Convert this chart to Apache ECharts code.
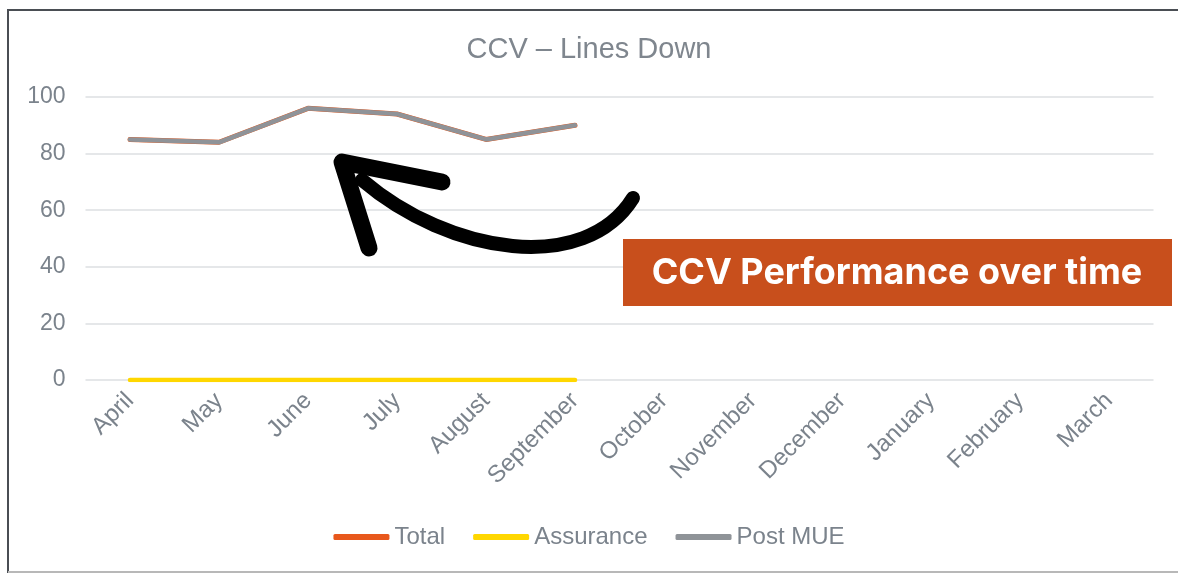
<!DOCTYPE html>
<html lang="en">
<head>
    <meta charset="UTF-8">
    <title>CCV - Lines Down</title>
    <script src="https://cdn.jsdelivr.net/npm/echarts@6/dist/echarts.min.js"></script>
    <style>
        html, body { margin: 0; padding: 0; background: #fff; }
        #main { width: 1178px; height: 573px; }
    </style>
</head>
<body>
<div id="main"></div>
<script>
    // data
    const months = ['April', 'May', 'June', 'July', 'August', 'September',
        'October', 'November', 'December', 'January', 'February', 'March'];
    const total = [85, 84, 96, 94, 85, 90];
    const assurance = [0, 0, 0, 0, 0, 0];
    const postMue = [85, 84, 96, 94, 85, 90];
    const yTicks = [0, 20, 40, 60, 80, 100];

    const grey = '#7b838c';
    const chart = echarts.init(document.getElementById('main'));

    chart.setOption({
        animation: false,
        backgroundColor: '#fff',
        textStyle: { fontFamily: 'Liberation Sans, Arial, sans-serif' },
        title: {
            text: 'CCV \u2013 Lines Down',
            left: 'center',
            top: 30,
            textStyle: { color: '#7f868e', fontSize: 29, fontWeight: 'normal' }
        },
        legend: {
            bottom: 19,
            left: 'center',
            icon: 'roundRect',
            itemWidth: 56,
            itemHeight: 6,
            itemGap: 28,
            textStyle: { color: grey, fontSize: 24, padding: [0, 0, 0, 0] },
            data: ['Total', 'Assurance', 'Post MUE']
        },
        grid: { left: 85.5, right: 24.5, top: 97, bottom: 193, containLabel: false },
        xAxis: {
            type: 'category',
            data: months,
            boundaryGap: true,
            axisLine: { show: false },
            axisTick: { show: false },
            axisLabel: { rotate: 45, color: grey, fontSize: 24, margin: 17, interval: 0 }
        },
        yAxis: {
            type: 'value',
            min: yTicks[0],
            max: yTicks[yTicks.length - 1],
            interval: 20,
            axisLine: { show: false },
            axisTick: { show: false },
            axisLabel: { color: grey, fontSize: 23, margin: 20 },
            splitLine: { lineStyle: { color: '#dcdfe2', width: 1.5 } }
        },
        series: [
            {
                name: 'Total', type: 'line', data: total, symbol: 'none',
                color: '#e8581c',
                lineStyle: { width: 5, cap: 'round', join: 'round' }
            },
            {
                name: 'Assurance', type: 'line', data: assurance, symbol: 'none',
                color: '#ffd700',
                lineStyle: { width: 4.5, cap: 'round', join: 'round' }
            },
            {
                name: 'Post MUE', type: 'line', data: postMue, symbol: 'none',
                color: '#8f9398',
                lineStyle: { width: 4.5, cap: 'round', join: 'round' }
            }
        ],
        graphic: [
            // frame round the chart area
            {
                type: 'polyline', silent: true,
                shape: { points: [[8, 573], [8, 10], [1178, 10]] },
                style: { stroke: '#4a4e54', lineWidth: 2, fill: null }
            },
            {
                type: 'line', silent: true,
                shape: { x1: 8, y1: 572, x2: 1178, y2: 572 },
                style: { stroke: '#b8b8b8', lineWidth: 2 }
            },
            // hand-drawn arrow
            {
                type: 'bezierCurve', silent: true, z: 20,
                shape: { x1: 633, y1: 198, cpx1: 585, cpy1: 275, cpx2: 450, cpy2: 255, x2: 362, y2: 180 },
                style: { stroke: '#000', lineWidth: 14, lineCap: 'round', fill: null }
            },
            {
                type: 'polyline', silent: true, z: 20,
                shape: { points: [[442, 182], [342, 162], [369, 248]] },
                style: { stroke: '#000', lineWidth: 17, lineCap: 'round', lineJoin: 'round', fill: null }
            },
            // callout box
            {
                type: 'rect', silent: true, z: 30,
                shape: { x: 623, y: 239, width: 549, height: 67 },
                style: { fill: '#c84f1c' }
            },
            {
                type: 'text', silent: true, z: 31,
                x: 897, y: 273,
                style: {
                    text: 'CCV Performance over time',
                    fill: '#fff',
                    font: 'bold 36px Inter, sans-serif',
                    align: 'center',
                    verticalAlign: 'middle'
                }
            }
        ]
    });
</script>
</body>
</html>
